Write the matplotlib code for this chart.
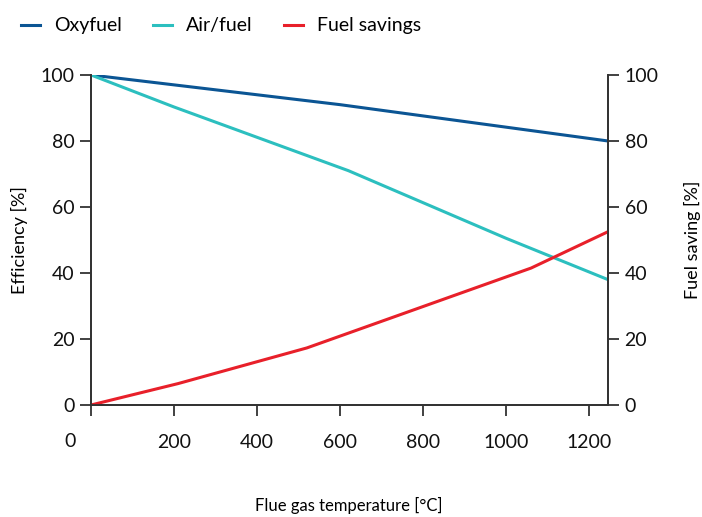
import matplotlib.pyplot as plt

plt.rcParams.update({
    'font.family': ['Lato', 'DejaVu Sans'],
    'font.size': 14,
})

# Flue gas temperature [°C] vs efficiency [%]
oxy_temp = [0, 600, 1245]
oxy_eff = [100, 91, 80]

air_temp = [0, 200, 620, 1000, 1245]
air_eff = [100, 90.3, 71, 50.5, 38]

save_temp = [0, 210, 520, 1060, 1245]
save_pct = [0, 6.5, 17.3, 41.5, 52.5]

x_ticks = [0, 200, 400, 600, 800, 1000, 1200]
y_ticks = [0, 20, 40, 60, 80, 100]

c_oxy = '#0b5594'
c_air = '#2cbfbf'
c_save = '#e8202a'
c_axis = '#333333'

fig = plt.figure(figsize=(7.02, 5.17), dpi=100)
ax = fig.add_axes([0.1296, 0.2166, 0.7364, 0.6384])
ax2 = ax.twinx()

l1, = ax.plot(oxy_temp, oxy_eff, color=c_oxy, lw=2.2, label='Oxyfuel')
l2, = ax.plot(air_temp, air_eff, color=c_air, lw=2.2, label='Air/fuel')
l3, = ax2.plot(save_temp, save_pct, color=c_save, lw=2.2, label='Fuel savings')

for a in (ax, ax2):
    a.set_xlim(0, 1245)
    a.set_ylim(0, 100)
    a.spines['top'].set_visible(False)
    for s in a.spines.values():
        s.set_color(c_axis)
        s.set_linewidth(1.3)
    a.tick_params(colors=c_axis, labelcolor='#111111', width=1.3, length=8, labelsize=14)

ax.set_xticks(x_ticks)
ax.set_xticklabels([''] + [str(t) for t in x_ticks[1:]])
ax.set_yticks(y_ticks)
ax2.set_yticks(y_ticks)
ax.tick_params(axis='x', pad=13)
ax.tick_params(axis='y', pad=4)
ax2.tick_params(axis='y', pad=4)
# the "0" of the x axis sits left of the spine
ax.annotate('0', xy=(0, 0), xycoords='axes fraction', xytext=(-21, -28),
            textcoords='offset pixels', ha='center', va='top',
            fontsize=14, color='#111111')

fig.text(0.497, 0.022, 'Flue gas temperature [°C]', ha='center', va='center', fontsize=12)
ax.set_ylabel('Efficiency [%]', fontsize=13, labelpad=9)
ax2.set_ylabel('Fuel saving [%]', fontsize=13, labelpad=18)

fig.legend(handles=[l1, l2, l3], loc='upper left', bbox_to_anchor=(0.005, 1.0),
           ncol=3, frameon=False, handlelength=1.0, handletextpad=0.7,
           columnspacing=1.6, fontsize=14)

fig.savefig('out.png', dpi=100)
